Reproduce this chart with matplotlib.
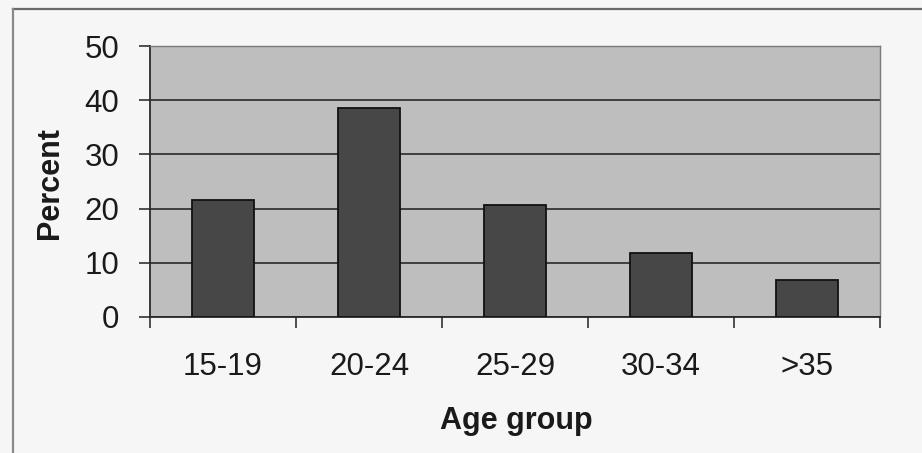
import numpy as np
import matplotlib.pyplot as plt
from matplotlib.lines import Line2D

plt.rcParams["font.family"] = ["Liberation Sans", "DejaVu Sans"]

# age distribution (percent)
age_groups = ["15-19", "20-24", "25-29", "30-34", ">35"]
percent = [21.6, 38.6, 20.6, 11.8, 6.8]
y_ticks = [0, 10, 20, 30, 40, 50]

fig = plt.figure(figsize=(9.22, 4.53), dpi=100)
fig.patch.set_facecolor("#f6f6f6")
ax = fig.add_axes([150 / 922, 1 - 317 / 453, 730 / 922, 271 / 453])
ax.set_facecolor("#bebebe")

x = np.arange(len(age_groups))
ax.bar(x, percent, width=0.42, color="#474747", edgecolor="#111111",
       linewidth=1.3, zorder=3)

ax.set_xlim(-0.5, len(age_groups) - 0.5)
ax.set_ylim(0, 50)
ax.set_yticks(y_ticks)
ax.yaxis.grid(True, color="#2a2a2a", linewidth=1.2, zorder=1)
ax.set_axisbelow(True)

# category boundaries get the tick marks, names sit in between
ax.set_xticks(np.arange(len(age_groups) + 1) - 0.5)
ax.set_xticklabels([])
ax.set_xticks(x, minor=True)
ax.set_xticklabels(age_groups, minor=True)
ax.tick_params(axis="x", which="major", length=8, width=1.2, color="#333333",
               direction="out")
ax.tick_params(axis="x", which="minor", length=0, pad=25, labelsize=22.5,
               labelcolor="#1a1a1a")
ax.tick_params(axis="y", length=8, width=1.2, color="#333333", pad=14,
               labelsize=22.5, labelcolor="#1a1a1a")

for side in ["left", "bottom"]:
    ax.spines[side].set_color("#2a2a2a")
    ax.spines[side].set_linewidth(1.3)
for side in ["top", "right"]:
    ax.spines[side].set_color("#7a7a7a")
    ax.spines[side].set_linewidth(1.0)

fig.text(50 / 922, 1 - 183 / 453, "Percent", rotation=90, fontsize=22,
         fontweight="bold", ha="center", va="center", color="#1a1a1a")
fig.text(516 / 922, 1 - 421 / 453, "Age group", fontsize=22,
         fontweight="bold", ha="center", va="center", color="#1a1a1a")

# chart frame (top and left edges)
fig.add_artist(Line2D([13 / 922, 1.0], [1 - 9 / 453, 1 - 9 / 453],
                      transform=fig.transFigure, color="#6a6a6a", lw=1.6))
fig.add_artist(Line2D([13 / 922, 13 / 922], [0.0, 1 - 9 / 453],
                      transform=fig.transFigure, color="#8a8a8a", lw=1.6))

fig.savefig("out.png", dpi=100, facecolor=fig.get_facecolor())
